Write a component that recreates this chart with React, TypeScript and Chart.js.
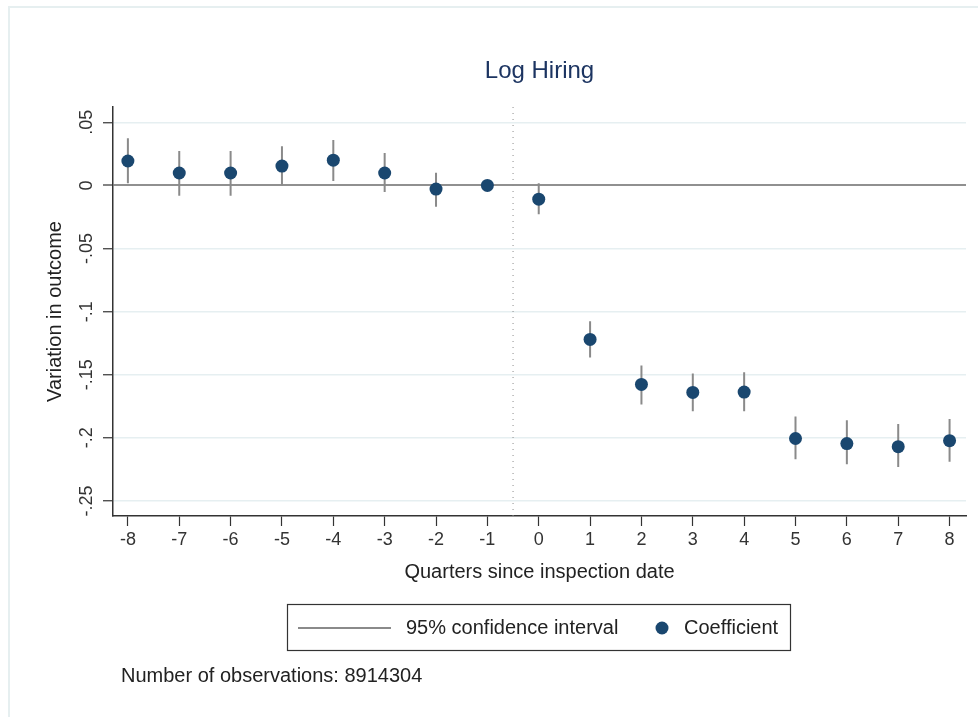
import React, { useEffect, useRef } from "react";
import { Chart, registerables } from "chart.js";

Chart.register(...registerables);

const quarters = [-8, -7, -6, -5, -4, -3, -2, -1, 0, 1, 2, 3, 4, 5, 6, 7, 8];
const coef = [0.0193, 0.0098, 0.0098, 0.0153, 0.02, 0.0098, -0.0029, 0, -0.0109, -0.122, -0.1577, -0.164, -0.1637, -0.2005, -0.2045, -0.207, -0.2022];
const ciLow = [0.0016, -0.0082, -0.0082, 0.0, 0.0035, -0.0053, -0.017, null, -0.0228, -0.1363, -0.1736, -0.179, -0.179, -0.217, -0.221, -0.223, -0.219];
const ciHigh = [0.0373, 0.0272, 0.0272, 0.031, 0.036, 0.0256, 0.01, null, 0.0016, -0.1077, -0.1426, -0.149, -0.148, -0.183, -0.186, -0.189, -0.185];

const yTicks = [0.05, 0, -0.05, -0.1, -0.15, -0.2, -0.25];
const yTickLabels = [".05", "0", "-.05", "-.1", "-.15", "-.2", "-.25"];
const xTicks = quarters;
const xTickLabels = quarters.map((q) => String(q));

const yMin = -0.2619;
const yMax = 0.0621;
const xMin = -8.29;
const xMax = 8.32;
const eventLine = -0.5;

const titleText = "Log Hiring";
const xTitle = "Quarters since inspection date";
const yTitle = "Variation in outcome";
const legendCI = "95% confidence interval";
const legendCoef = "Coefficient";
const noteText = "Number of observations: 8914304";

const FONT = '"Liberation Sans", Arial, sans-serif';
const NAVY = "#1a476f";
const GRAY = "#8a8a8a";

const decorPlugin = {
  id: "decor",
  beforeDraw(chart: any) {
    const ctx = chart.ctx;
    ctx.save();
    ctx.fillStyle = "#ffffff";
    ctx.fillRect(0, 0, chart.width, chart.height);
    ctx.fillStyle = "#e6eff0";
    ctx.fillRect(8, 6, chart.width - 8, 2);
    ctx.fillRect(8, 6, 2, chart.height - 6);
    ctx.restore();
  },
  afterDraw(chart: any) {
    const ctx = chart.ctx;
    const xs = chart.scales.x;
    const ys = chart.scales.y;
    const area = chart.chartArea;
    ctx.save();
    // title
    ctx.fillStyle = "#1c3461";
    ctx.font = `24px ${FONT}`;
    ctx.textAlign = "center";
    ctx.textBaseline = "middle";
    ctx.fillText(titleText, (area.left + area.right) / 2, 71);

    // x tick labels
    ctx.fillStyle = "#333333";
    ctx.font = `18px ${FONT}`;
    xTicks.forEach((v, i) => {
      ctx.fillText(xTickLabels[i], xs.getPixelForValue(v), 540);
    });
    // y tick labels (rotated)
    yTicks.forEach((v, i) => {
      const py = ys.getPixelForValue(v);
      ctx.save();
      ctx.translate(87, py);
      ctx.rotate(-Math.PI / 2);
      ctx.fillText(yTickLabels[i], 0, 0);
      ctx.restore();
    });
    // axis titles
    ctx.font = `20px ${FONT}`;
    ctx.fillStyle = "#222222";
    ctx.fillText(xTitle, (area.left + area.right) / 2, 572);
    ctx.save();
    ctx.translate(55, (area.top + area.bottom) / 2);
    ctx.rotate(-Math.PI / 2);
    ctx.fillText(yTitle, 0, 0);
    ctx.restore();

    // legend
    ctx.strokeStyle = "#333333";
    ctx.lineWidth = 1.2;
    ctx.strokeRect(287.5, 604.5, 503, 46);
    ctx.strokeStyle = GRAY;
    ctx.lineWidth = 2;
    ctx.beginPath();
    ctx.moveTo(298, 628);
    ctx.lineTo(391, 628);
    ctx.stroke();
    ctx.textAlign = "left";
    ctx.fillStyle = "#222222";
    ctx.fillText(legendCI, 406, 628);
    ctx.fillStyle = NAVY;
    ctx.beginPath();
    ctx.arc(662, 628, 6.5, 0, Math.PI * 2);
    ctx.fill();
    ctx.fillStyle = "#222222";
    ctx.fillText(legendCoef, 684, 628);

    // note
    ctx.fillText(noteText, 121, 676);
    ctx.restore();
  },
};

export default function App() {
  const ref = useRef<HTMLCanvasElement | null>(null);
  useEffect(() => {
    if (!ref.current) return;
    const ciData: any[] = [];
    quarters.forEach((q, i) => {
      if (ciLow[i] === null || ciHigh[i] === null) return;
      ciData.push({ x: q, y: ciLow[i] });
      ciData.push({ x: q, y: ciHigh[i] });
      ciData.push({ x: q, y: null });
    });
    const chart = new Chart(ref.current, {
      type: "scatter",
      data: {
        datasets: [
          {
            label: legendCoef,
            data: quarters.map((q, i) => ({ x: q, y: coef[i] })),
            pointRadius: 6.5,
            pointHoverRadius: 6.5,
            pointBackgroundColor: NAVY,
            pointBorderColor: NAVY,
            pointBorderWidth: 0,
            showLine: false,
            order: 0,
          },
          {
            label: legendCI,
            data: ciData,
            showLine: true,
            spanGaps: false,
            borderColor: GRAY,
            borderWidth: 2,
            pointRadius: 0,
            order: 1,
          },
          {
            label: "event",
            data: [
              { x: eventLine, y: yMax },
              { x: eventLine, y: yMin },
            ],
            showLine: true,
            borderColor: "#8c8c8c",
            borderWidth: 1,
            borderDash: [1, 5],
            pointRadius: 0,
            order: 2,
          },
        ] as any,
      },
      options: {
        animation: false,
        responsive: false,
        devicePixelRatio: 1,
        events: [],
        layout: { padding: { left: 0, right: 12, top: 107, bottom: 0 } },
        plugins: {
          legend: { display: false },
          title: { display: false },
          tooltip: { enabled: false },
        },
        scales: {
          x: {
            type: "linear",
            min: xMin,
            max: xMax,
            afterBuildTicks: (s: any) => {
              s.ticks = xTicks.map((v) => ({ value: v }));
            },
            afterFit: (s: any) => {
              s.height = 201;
            },
            ticks: { display: false },
            grid: {
              display: true,
              drawOnChartArea: false,
              drawTicks: true,
              tickLength: 10,
              tickColor: "#333333",
              tickWidth: 1.2,
            },
            border: { display: true, color: "#333333", width: 1.5 },
          },
          y: {
            type: "linear",
            min: yMin,
            max: yMax,
            afterBuildTicks: (s: any) => {
              s.ticks = yTicks.map((v) => ({ value: v }));
            },
            afterFit: (s: any) => {
              s.width = 113;
            },
            ticks: { display: false },
            grid: {
              display: true,
              drawOnChartArea: true,
              drawTicks: true,
              tickLength: 10,
              tickColor: "#333333",
              tickWidth: 1.2,
              color: (c: any) => (c.tick && Math.abs(c.tick.value) < 1e-9 ? "#909090" : "#e6eff1"),
              lineWidth: (c: any) => (c.tick && Math.abs(c.tick.value) < 1e-9 ? 2 : 1.5),
            },
            border: { display: true, color: "#333333", width: 1.5 },
          },
        },
      } as any,
      plugins: [decorPlugin],
    });
    return () => chart.destroy();
  }, []);
  return (
    <div style={{ position: "fixed", left: 0, top: 0, width: 978, height: 717, background: "#fff" }}>
      <canvas ref={ref} width={978} height={717} style={{ width: 978, height: 717, display: "block" }} />
    </div>
  );
}
